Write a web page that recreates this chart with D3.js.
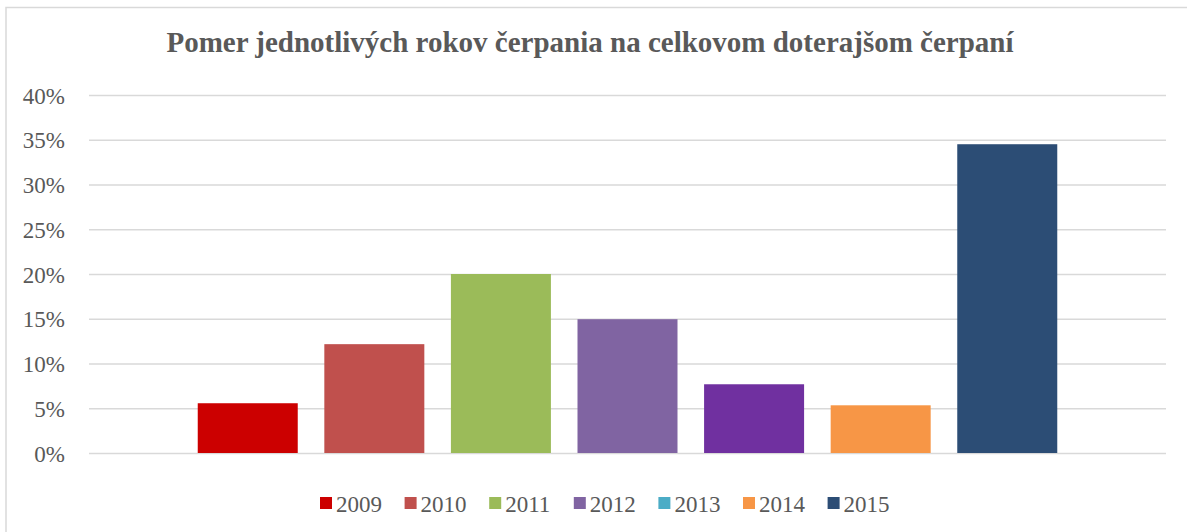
<!DOCTYPE html>
<html>
<head>
<meta charset="utf-8">
<script src="https://cdnjs.cloudflare.com/ajax/libs/d3/7.8.5/d3.min.js"></script>
<style>
  body { margin: 0; background: #fff; }
  text { font-family: "Liberation Serif", "Times New Roman", serif; fill: #595959; }
</style>
</head>
<body>
<div id="chart"></div>
<script>
var years = ['2009', '2010', '2011', '2012', '2013', '2014', '2015']
var shares = [0.0556, 0.1216, 0.200, 0.1495, 0.0768, 0.0533, 0.345]
var barColors = ['#cc0000', '#c0504d', '#9bbb59', '#8064a2', '#7030a0', '#f79646', '#2c4d75']
var legendColors = ['#cc0000', '#c0504d', '#9bbb59', '#8064a2', '#4bacc6', '#f79646', '#2c4d75']
var yTicks = [0, 0.05, 0.10, 0.15, 0.20, 0.25, 0.30, 0.35, 0.40]
var title = 'Pomer jednotlivých rokov čerpania na celkovom doterajšom čerpaní'

var w = 1187, h = 532
var pLeft = 89, pRight = 1166, pTop = 95, pBottom = 453

var svg = d3.select('#chart').append('svg').attr('width', w).attr('height', h)

// chart frame (cut off on the right and bottom)
svg.append('rect').attr('x', 6).attr('y', 7.5).attr('width', w + 10).attr('height', h)
  .attr('fill', '#fff').attr('stroke', '#d9d9d9').attr('stroke-width', 1.5)

svg.append('text').attr('x', 590).attr('y', 52).attr('text-anchor', 'middle')
  .style('font-size', '29px').style('font-weight', 'bold').text(title)

var y = d3.scaleLinear().domain([0, 0.4]).range([pBottom, pTop])
var x = d3.scaleBand().domain(years).range([pLeft, pRight]).paddingInner(0.21).paddingOuter(0.859)

var yAxis = d3.axisLeft(y).tickValues(yTicks).tickFormat(d3.format('.0%'))
  .tickSize(-(pRight - pLeft)).tickPadding(24)
var gy = svg.append('g').attr('transform', 'translate(' + pLeft + ',0)').call(yAxis)
gy.select('.domain').remove()
gy.selectAll('line').attr('stroke', '#d9d9d9').attr('stroke-width', 1.5)
gy.selectAll('text').style('font-size', '23px').attr('fill', '#595959').attr('dy', '0.35em')
  .style('font-family', '"Liberation Serif", serif')

svg.selectAll('rect.bar').data(years).enter().append('rect').attr('class', 'bar')
  .attr('x', function (d) { return x(d) })
  .attr('width', x.bandwidth())
  .attr('y', function (d, i) { return y(shares[i]) })
  .attr('height', function (d, i) { return pBottom - y(shares[i]) })
  .attr('fill', function (d, i) { return barColors[i] })

var lg = svg.append('g').attr('transform', 'translate(320,504)')
var item = lg.selectAll('g').data(years).enter().append('g')
  .attr('transform', function (d, i) { return 'translate(' + i * 84.6 + ',0)' })
item.append('rect').attr('x', 0).attr('y', -7).attr('width', 12).attr('height', 12)
  .attr('fill', function (d, i) { return legendColors[i] })
item.append('text').attr('x', 16).attr('y', 0).attr('dy', '0.35em')
  .style('font-size', '23px').text(function (d) { return d })
</script>
</body>
</html>
